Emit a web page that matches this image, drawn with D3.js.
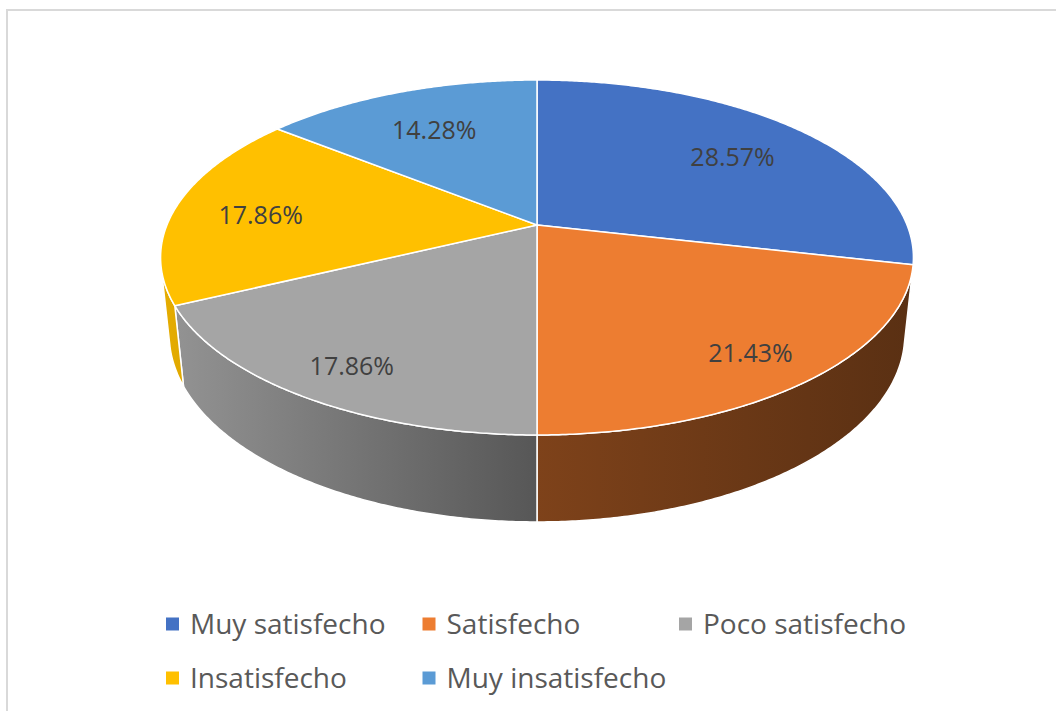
<!DOCTYPE html>
<html>
<head>
<meta charset="utf-8">
<script src="https://cdn.jsdelivr.net/npm/d3@7"></script>
<style>
  html, body { margin: 0; padding: 0; background: #fff; }
  svg { display: block; font-family: "Open Sans", sans-serif; }
</style>
</head>
<body>
<svg id="chart" width="1056" height="711"></svg>
<script>
const categories = ['Muy satisfecho', 'Satisfecho', 'Poco satisfecho', 'Insatisfecho', 'Muy insatisfecho']
const values     = [28.57, 21.43, 17.86, 17.86, 14.28]
const labels     = ['28.57%', '21.43%', '17.86%', '17.86%', '14.28%']
const colors     = ['#4472C4', '#ED7D31', '#A5A5A5', '#FFC000', '#5B9BD5']

const svg = d3.select('#chart')

// chart frame (only left/top edges are inside the picture)
svg.append('path')
   .attr('d', 'M7,711V10H1056')
   .attr('fill', 'none')
   .attr('stroke', '#d9d9d9')
   .attr('stroke-width', 2)

// --- simple perspective camera for the 3D pie ---
const cam = {cx: 537, cy: 225, f: 1791, D: 4.84, sin: 0.4635, cos: 0.8861, H: 0.2373}

function proj(theta, r, bottom) {
  const u = r * Math.sin(theta), v = -r * Math.cos(theta)
  const yu = bottom ? -cam.H : 0
  const yc = yu * cam.cos - v * cam.sin
  const d  = cam.D - (yu * cam.sin + v * cam.cos)
  return [cam.cx + cam.f * u / d, cam.cy - cam.f * yc / d]
}

function arcPts(a0, a1, bottom) {
  const n = Math.max(2, Math.ceil(Math.abs(a1 - a0) / 0.008))
  return d3.range(n + 1).map(i => proj(a0 + (a1 - a0) * i / n, 1, bottom))
}

const pie  = d3.pie().sort(null).value(d => d)
const arcs = pie(values)
const line = d3.line()

// wall faces the camera where v > 1/(D cos)
const vt = 1 / (cam.D * cam.cos)
const wMin = Math.acos(-vt), wMax = 2 * Math.PI - wMin

const defs = svg.append('defs')
const shade = (c, k) => { const o = d3.rgb(c); return d3.rgb(o.r * k, o.g * k, o.b * k) }

arcs.forEach((a, i) => {
  const g = defs.append('linearGradient')
    .attr('id', 'wall' + i)
    .attr('gradientUnits', 'userSpaceOnUse')
    .attr('x1', 160).attr('x2', 913).attr('y1', 0).attr('y2', 0)
  ;[[0, 0.9], [0.5, 0.53], [1, 0.38]].forEach(([o, k]) =>
    g.append('stop').attr('offset', o).attr('stop-color', shade(colors[i], k)))
})

const walls = svg.append('g')
arcs.forEach((a, i) => {
  const s = Math.max(a.startAngle, wMin), e = Math.min(a.endAngle, wMax)
  if (e <= s) return
  const pts = arcPts(s, e, false).concat(arcPts(e, s, true))
  walls.append('path')
    .attr('d', line(pts) + 'Z')
    .attr('fill', `url(#wall${i})`)
    .attr('stroke', '#fff')
    .attr('stroke-width', 1.5)
    .attr('stroke-linejoin', 'round')
})

const tops = svg.append('g')
arcs.forEach((a, i) => {
  const pts = [proj(0, 0, false)].concat(arcPts(a.startAngle, a.endAngle, false))
  tops.append('path')
    .attr('d', line(pts) + 'Z')
    .attr('fill', colors[i])
    .attr('stroke', '#fff')
    .attr('stroke-width', 1.5)
    .attr('stroke-linejoin', 'round')
})

// data labels: a bit further out on the near side, like Excel does
const labelPos = d => {
  const m = (d.startAngle + d.endAngle) / 2
  const r = 0.77 - 0.06 * Math.cos(m)
  const p = proj(m, r, false)
  return [p[0], p[1] + 3]
}
svg.append('g').selectAll('text')
  .data(arcs)
  .join('text')
  .attr('x', d => labelPos(d)[0])
  .attr('y', d => labelPos(d)[1])
  .attr('text-anchor', 'middle')
  .attr('dominant-baseline', 'central')
  .attr('font-size', 25)
  .attr('fill', '#404040')
  .text((d, i) => labels[i])

// legend
const legend = svg.append('g')
const item = legend.selectAll('g')
  .data(categories)
  .join('g')
  .attr('transform', (d, i) => `translate(${166 + (i % 3) * 256.5},${624 + Math.floor(i / 3) * 54})`)
item.append('rect')
  .attr('x', 0).attr('y', -6.5)
  .attr('width', 13).attr('height', 13)
  .attr('fill', (d, i) => colors[i])
item.append('text')
  .attr('x', 24).attr('y', 10)
  .attr('font-size', 28)
  .attr('fill', '#595959')
  .text(d => d)
</script>
</body>
</html>
